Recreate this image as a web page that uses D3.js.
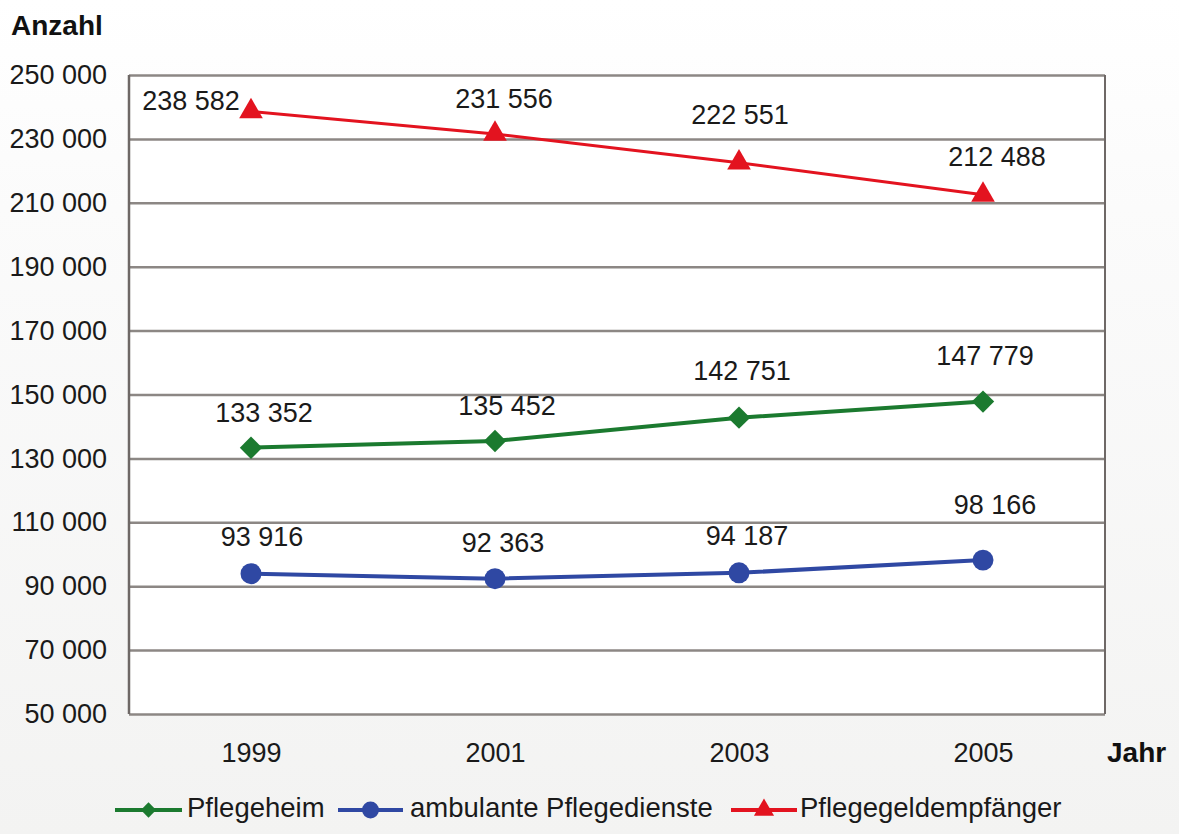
<!DOCTYPE html>
<html lang="de">
<head>
<meta charset="utf-8">
<script src="https://cdn.jsdelivr.net/npm/d3@7"></script>
<style>
  html, body { margin: 0; padding: 0; }
  body { width: 1179px; height: 834px; overflow: hidden; }
  svg { display: block; font-family: "Liberation Sans", Arial, Helvetica, sans-serif; }
</style>
</head>
<body>
<svg id="chart" width="1179" height="834"></svg>
<script>
// Pflegebedürftige nach Versorgungsart, 1999–2005
const years = ["1999", "2001", "2003", "2005"];
const pflegeheim = [133352, 135452, 142751, 147779];
const ambulant = [93916, 92363, 94187, 98166];
const pflegegeld = [238582, 231556, 222551, 212488];
const yTicks = [50000, 70000, 90000, 110000, 130000, 150000, 170000, 190000, 210000, 230000, 250000];
const seriesNames = ["Pflegeheim", "ambulante Pflegedienste", "Pflegegeldempfänger"];

// label nudges (dx, dy from the marker to the label centre)
const labelNudge = {
  "Pflegeheim": [[13, -33], [12, -33], [3, -45], [2, -44]],
  "ambulante Pflegedienste": [[11, -35], [8, -34], [8, -35], [12, -53]],
  "Pflegegeldempfänger": [[-60, -9], [9, -33], [1, -46], [14, -36]]
};

const series = [
  { name: seriesNames[0], values: pflegeheim, color: "#1b7a2f", width: 4, symbol: d3.symbolDiamond2, size: 320, legendSize: 150 },
  { name: seriesNames[1], values: ambulant, color: "#2f48a3", width: 4, symbol: d3.symbolCircle, size: 345, legendSize: 225 },
  { name: seriesNames[2], values: pflegegeld, color: "#e3131f", width: 3, symbol: d3.symbolTriangle2, size: 400, legendSize: 290 }
];

const fmt = d3.formatLocale({ decimal: ",", thousands: " ", grouping: [3], currency: ["", " €"] }).format(",d");

const svg = d3.select("#chart");
const W = 1179, H = 834;
const plot = { left: 129, right: 1105, top: 75, bottom: 714 };
const FS = 27;

// background
const defs = svg.append("defs");
const grad = defs.append("linearGradient").attr("id", "bg").attr("x1", 0).attr("y1", 0).attr("x2", 0).attr("y2", 1);
grad.append("stop").attr("offset", "0%").attr("stop-color", "#ffffff");
grad.append("stop").attr("offset", "25%").attr("stop-color", "#fbfbfb");
grad.append("stop").attr("offset", "100%").attr("stop-color", "#f3f3f2");
svg.append("rect").attr("width", W).attr("height", H).attr("fill", "url(#bg)");

const x = d3.scalePoint().domain(years).range([plot.left, plot.right]).padding(0.5);
const y = d3.scaleLinear().domain([50000, 250000]).range([plot.bottom, plot.top]);

// plot area
svg.append("rect")
  .attr("x", plot.left).attr("y", plot.top)
  .attr("width", plot.right - plot.left).attr("height", plot.bottom - plot.top)
  .attr("fill", "#ffffff");

// gridlines via axis
const yGrid = d3.axisLeft(y).tickValues(yTicks).tickSize(-(plot.right - plot.left)).tickFormat("");
const gGrid = svg.append("g").attr("transform", `translate(${plot.left},0)`).call(yGrid);
gGrid.select(".domain").remove();
gGrid.selectAll(".tick line").attr("stroke", "#8c8784").attr("stroke-width", 2.5);

// plot frame sides
svg.append("line").attr("x1", plot.left).attr("x2", plot.left).attr("y1", plot.top).attr("y2", plot.bottom)
  .attr("stroke", "#6e6866").attr("stroke-width", 2.5);
svg.append("line").attr("x1", plot.right).attr("x2", plot.right).attr("y1", plot.top).attr("y2", plot.bottom)
  .attr("stroke", "#6e6866").attr("stroke-width", 2);

// y tick labels
const yAxis = d3.axisLeft(y).tickValues(yTicks).tickSize(0).tickPadding(22).tickFormat(fmt);
const gY = svg.append("g").attr("transform", `translate(${plot.left},0)`).call(yAxis);
gY.select(".domain").remove();
gY.selectAll("text").attr("font-size", FS).attr("fill", "#1a1a1a")
  .attr("font-family", "Liberation Sans, Arial, sans-serif");

// x tick labels
const xAxis = d3.axisBottom(x).tickSize(0).tickPadding(0);
const gX = svg.append("g").attr("transform", `translate(0,${plot.bottom})`).call(xAxis);
gX.select(".domain").remove();
gX.selectAll("text").attr("font-size", FS).attr("fill", "#1a1a1a").attr("dy", null)
  .attr("y", 41).attr("dominant-baseline", "middle")
  .attr("font-family", "Liberation Sans, Arial, sans-serif");

// axis titles
svg.append("text").attr("x", 11).attr("y", 28).attr("dominant-baseline", "middle")
  .attr("font-size", 28).attr("font-weight", "bold").attr("fill", "#111").text("Anzahl");
svg.append("text").attr("x", 1107).attr("y", 755).attr("dominant-baseline", "middle")
  .attr("font-size", 28).attr("font-weight", "bold").attr("fill", "#111").text("Jahr");

// lines, markers, labels
const line = d3.line().x((d, i) => x(years[i])).y(d => y(d));
series.forEach(s => {
  const g = svg.append("g");
  g.append("path").attr("d", line(s.values)).attr("fill", "none")
    .attr("stroke", s.color).attr("stroke-width", s.width).attr("stroke-linejoin", "round");
  g.selectAll("path.m").data(s.values).join("path").attr("class", "m")
    .attr("transform", (d, i) => `translate(${x(years[i])},${y(d)})`)
    .attr("d", d3.symbol().type(s.symbol).size(s.size)())
    .attr("fill", s.color);
  g.selectAll("text").data(s.values).join("text")
    .attr("x", (d, i) => x(years[i]) + labelNudge[s.name][i][0])
    .attr("y", (d, i) => y(d) + labelNudge[s.name][i][1])
    .attr("text-anchor", "middle").attr("dominant-baseline", "middle")
    .attr("font-size", FS).attr("fill", "#1a1a1a")
    .text(d => fmt(d));
});

// legend
const legendItems = [
  { s: series[0], x1: 115, x2: 182, tx: 187 },
  { s: series[1], x1: 338, x2: 403, tx: 410 },
  { s: series[2], x1: 731, x2: 797, tx: 800 }
];
const ly = 810;
legendItems.forEach(it => {
  const g = svg.append("g");
  g.append("line").attr("x1", it.x1).attr("x2", it.x2).attr("y1", ly).attr("y2", ly)
    .attr("stroke", it.s.color).attr("stroke-width", 4);
  g.append("path").attr("transform", `translate(${(it.x1 + it.x2) / 2},${ly})`)
    .attr("d", d3.symbol().type(it.s.symbol).size(it.s.legendSize)()).attr("fill", it.s.color);
  g.append("text").attr("x", it.tx).attr("y", ly).attr("dominant-baseline", "middle")
    .attr("font-size", 27.5).attr("fill", "#1a1a1a").text(it.s.name);
});
</script>
</body>
</html>
